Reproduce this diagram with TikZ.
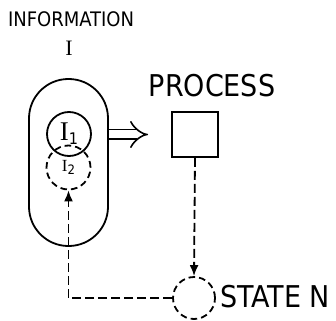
\documentclass[tikz,border=0pt]{standalone}
\usepackage{fontspec}
\setmainfont{DejaVu Sans Condensed}
\newfontfamily\serifI{Liberation Serif}
\usetikzlibrary{arrows.meta}
\newcommand*{\lw}{0.9pt}

\begin{document}
\begin{tikzpicture}[
   x=0.5pt, y=-0.5pt,
   bigtext/.style={inner sep=0, font=\fontsize{15}{15}\selectfont},
   smalltext/.style={inner sep=0, font=\fontsize{10}{10}\selectfont},
   infobox/.style={rectangle, draw, line width=\lw, rounded corners=19.7pt,
                   inner sep=0, minimum width=39.5pt, minimum height=83.5pt},
   partcirc/.style={circle, draw, line width=\lw, inner sep=0, minimum size=22pt},
   pushcirc/.style={circle, draw, line width=\lw, dash pattern=on 3.3pt off 2pt,
                    inner sep=0, minimum size=22pt},
   procrec/.style={rectangle, draw, line width=\lw, inner sep=0,
                   minimum width=23pt, minimum height=22.5pt},
   statecirc/.style={circle, draw, line width=\lw, dash pattern=on 3.3pt off 2pt,
                     inner sep=0, minimum size=21pt},
   flow/.style={line width=\lw, dash pattern=on 4.5pt off 2pt,
                -{Latex[length=5.5pt, width=4.5pt]}}
  ]

  \useasboundingbox (0, 0) rectangle (336, 320);

  % Information store
  \node (infolabel) at (71, 19) [smalltext] {INFORMATION};
  \node (infosym) at (69, 48) [inner sep=0] {\serifI\fontsize{11}{11}\selectfont I};

  \node (info) at (68.5, 162.5) [infobox] {};

  \node (iA) at (69, 134) [partcirc]
    {\serifI\fontsize{13.5}{14}\selectfont I\raisebox{-0.3ex}{\rmfamily\fontsize{8}{8}\selectfont 1}};

  \node (iB) at (68.5, 167.5) [pushcirc]
    {\serifI\fontsize{8.5}{9}\selectfont I\raisebox{-0.3ex}{\rmfamily\fontsize{6.5}{7}\selectfont 2}};

  % Process
  \node (proclabel) at (212, 86) [bigtext] {PROCESS};
  \node (proc) at (195, 134.5) [procrec] {};

  % State
  \node (state) at (194, 298) [statecirc] {};
  \node (statelabel) at (220, 297) [bigtext, anchor=west] {STATE N};

  \coordinate (out) at (148, 134.5);

  \draw[line width=0.8pt, double distance=4pt, -{Implies}]
    (info.east |- out) -- (out);

  \draw[flow] (proc.south) -- (state.north);
  \draw[flow] (state.west) -| (iB.south);

\end{tikzpicture}
\end{document}
